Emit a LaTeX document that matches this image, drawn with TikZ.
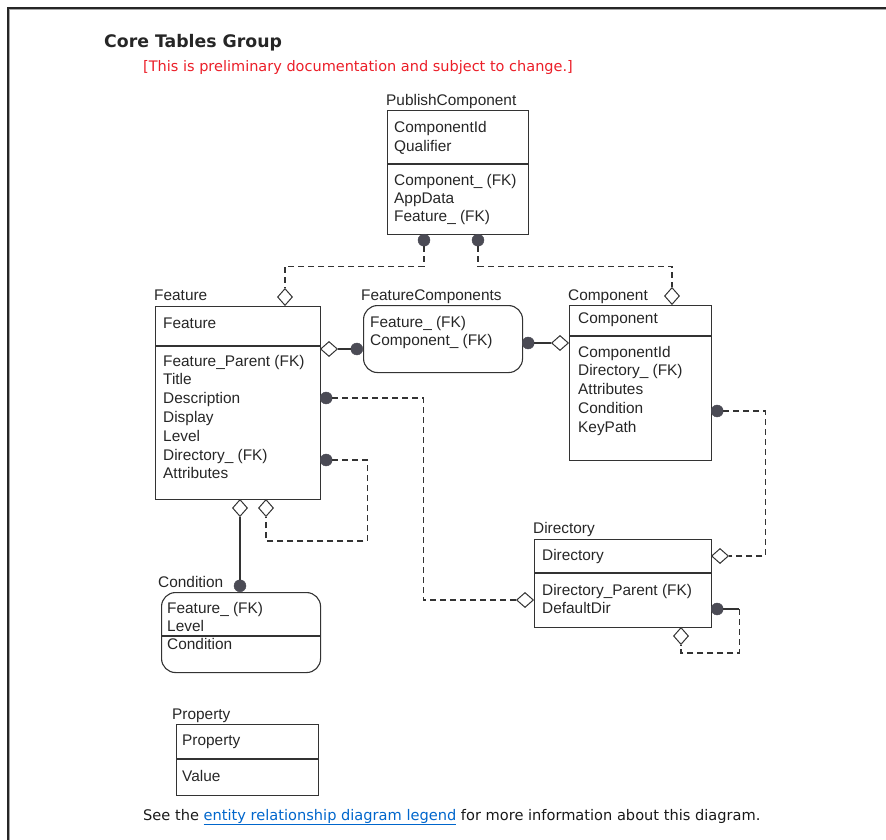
\documentclass[tikz,border=0pt]{standalone}
\usepackage{fontspec}
\setmainfont{Liberation Sans}
\newfontfamily\webfont{DejaVu Sans}
\usepackage{tikz}
\usetikzlibrary{shapes.geometric}
\definecolor{boxline}{RGB}{51,51,51}
\definecolor{dotfill}{RGB}{75,75,85}
\definecolor{notered}{RGB}{235,30,40}
\definecolor{linkblue}{RGB}{0,102,204}
\tikzset{
  entity/.style={draw=boxline, line width=1.1pt, rectangle, inner sep=0pt, anchor=north west},
  depentity/.style={entity, rounded corners=14pt},
  divider/.style={draw=boxline, line width=1.1pt},
  attr/.style={anchor=base west, inner sep=0pt, text=black!85,
    font=\fontsize{15.4}{18}\selectfont},
  webtext/.style={anchor=base west, inner sep=0pt, text=black!90,
    font=\webfont\fontsize{14.6}{17}\selectfont},
  fkdot/.style={circle, fill=dotfill, draw=dotfill, minimum size=12pt, inner sep=0pt},
  fkdia/.style={diamond, draw=boxline, fill=white, line width=1pt, inner sep=0pt,
    minimum width=15pt, minimum height=17pt},
  fkdiah/.style={fkdia, minimum width=17pt, minimum height=15pt},
  relline/.style={draw=boxline, line width=1.2pt},
  optrel/.style={relline, dash pattern=on 6pt off 4pt},
}
\begin{document}
\begin{tikzpicture}[x=1pt,y=-1pt]
\useasboundingbox (0,0) rectangle (886,840);
    %frame
    \draw[line width=1.3pt, black!85] (8,840) -- (8,8) -- (886,8);
    \draw[line width=0.8pt, black!35] (9.6,840) -- (9.6,9.6) -- (886,9.6);
    %page texts
    \node[webtext, text=black!85, font=\webfont\bfseries\fontsize{17.3}{20}\selectfont] (title) at (104,48) {Core Tables Group};
    \node[webtext, text=notered, font=\webfont\fontsize{14.5}{17}\selectfont] (note) at (143,72) {[This is preliminary documentation and subject to change.]};
    \node[webtext] (seealso) at (143,820) {See the \textcolor{linkblue}{\underline{entity relationship diagram legend}} for more information about this diagram.};
    %PublishComponent
    \node[entity, minimum width=141pt, minimum height=124pt] (pubcomp) at (387,110) {};
    \draw[divider] ([yshift=-54pt]pubcomp.north west) -- ([yshift=-54pt]pubcomp.north east);
    \node[attr] (pubcomp-t) at (386,106) {PublishComponent};
    \foreach \t [count=\i] in {ComponentId, Qualifier}
        \node[attr] (pubcomp-k\i) at (394,{132.5+19*(\i-1)}) {\t};
    \foreach \t [count=\i] in {Component\_ (FK), AppData, Feature\_ (FK)}
        \node[attr] (pubcomp-a\i) at (394,{185.5+18*(\i-1)}) {\t};
    %Feature
    \node[entity, minimum width=165pt, minimum height=193pt] (feature) at (155,306) {};
    \draw[divider] ([yshift=-40pt]feature.north west) -- ([yshift=-40pt]feature.north east);
    \node[attr] (feature-t) at (154,300.5) {Feature};
    \node[attr] (feature-k1) at (163,328) {Feature};
    \foreach \t [count=\i] in {Feature\_Parent (FK), Title, Description, Display, Level, Directory\_ (FK), Attributes}
        \node[attr] (feature-a\i) at (163,{366+18.8*(\i-1)}) {\t};
    %FeatureComponents
    \node[depentity, minimum width=159pt, minimum height=67pt] (featcomp) at (363,305) {};
    \node[attr] (featcomp-t) at (361,300.5) {FeatureComponents};
    \foreach \t [count=\i] in {Feature\_ (FK), Component\_ (FK)}
        \node[attr] (featcomp-k\i) at (370,{327+18.5*(\i-1)}) {\t};
    %Component
    \node[entity, minimum width=142pt, minimum height=155pt] (component) at (569,305) {};
    \draw[divider] ([yshift=-31pt]component.north west) -- ([yshift=-31pt]component.north east);
    \node[attr] (component-t) at (568,300.5) {Component};
    \node[attr] (component-k1) at (578,323.5) {Component};
    \foreach \t [count=\i] in {ComponentId, Directory\_ (FK), Attributes, Condition, KeyPath}
        \node[attr] (component-a\i) at (578,{357+18.75*(\i-1)}) {\t};
    %Directory
    \node[entity, minimum width=177pt, minimum height=88pt] (directory) at (534,539) {};
    \draw[divider] ([yshift=-34pt]directory.north west) -- ([yshift=-34pt]directory.north east);
    \node[attr] (directory-t) at (533,533.5) {Directory};
    \node[attr] (directory-k1) at (542,560.5) {Directory};
    \foreach \t [count=\i] in {Directory\_Parent (FK), DefaultDir}
        \node[attr] (directory-a\i) at (542,{595.5+18*(\i-1)}) {\t};
    %Condition
    \node[depentity, minimum width=159pt, minimum height=80pt] (condition) at (161,592) {};
    \draw[divider] ([yshift=-44pt]condition.north west) -- ([yshift=-44pt]condition.north east);
    \node[attr] (condition-t) at (158,587.5) {Condition};
    \foreach \t [count=\i] in {Feature\_ (FK), Level}
        \node[attr] (condition-k\i) at (167,{613.5+17.5*(\i-1)}) {\t};
    \node[attr] (condition-a1) at (167,649.5) {Condition};
    %Property
    \node[entity, minimum width=142pt, minimum height=71pt] (property) at (176,724) {};
    \draw[divider] ([yshift=-35pt]property.north west) -- ([yshift=-35pt]property.north east);
    \node[attr] (property-t) at (172,719.5) {Property};
    \node[attr] (property-k1) at (182,745.5) {Property};
    \node[attr] (property-a1) at (182,781.5) {Value};
    %diamonds
    \node[fkdia, anchor=south] (feature-pc) at (285,306) {};
    \node[fkdia, anchor=south] (component-pc) at (672,305) {};
    \node[fkdiah, anchor=west] (feature-fc) at (320,349) {};
    \node[fkdiah, anchor=east] (component-fc) at (569,343) {};
    \node[fkdiah, anchor=west] (directory-c) at (711,556) {};
    \node[fkdiah, anchor=east] (directory-f) at (534,600) {};
    \node[fkdia, anchor=north] (directory-p) at (681,627) {};
    \node[fkdia, anchor=north] (feature-cond) at (240,499) {};
    \node[fkdia, anchor=north] (feature-p) at (266,499) {};
    %dots
    \node[fkdot, anchor=north] (pubcomp-f) at (424,234) {};
    \node[fkdot, anchor=north] (pubcomp-c) at (478,234) {};
    \node[fkdot, anchor=east] (featcomp-f) at (363,349) {};
    \node[fkdot, anchor=west] (featcomp-c) at (522,343) {};
    \node[fkdot, anchor=west] (feature-d) at (320,398) {};
    \node[fkdot, anchor=west] (feature-pdot) at (320,460) {};
    \node[fkdot, anchor=west] (component-d) at (711,411) {};
    \node[fkdot, anchor=west] (directory-pdot) at (711,609) {};
    \node[fkdot, anchor=south] (condition-f) at (240,592) {};
    %relationships
    \draw[relline] (feature-fc.east) -- (featcomp-f.west);
    \draw[relline] (featcomp-c.east) -- (component-fc.west);
    \draw[relline] (feature-cond.south) -- (condition-f.north);
    \draw[optrel] (pubcomp-f.south) -- ++(0,20) -| (feature-pc.north);
    \draw[optrel] (pubcomp-c.south) -- ++(0,20) -| (component-pc.north);
    \draw[optrel] (feature-d.east) -- ++(91,0) |- (directory-f.west);
    \draw[optrel] (feature-pdot.east) -- ++(35,0) -- ++(0,81) -| (feature-p.south);
    \draw[optrel] (component-d.east) -- ++(42,0) |- (directory-c.east);
    \draw[relline] (directory-pdot.east) -- ++(16,0) coordinate (dirbend);
    \draw[optrel] (dirbend) -- ++(0,44) -| (directory-p.south);
\end{tikzpicture}
\end{document}
